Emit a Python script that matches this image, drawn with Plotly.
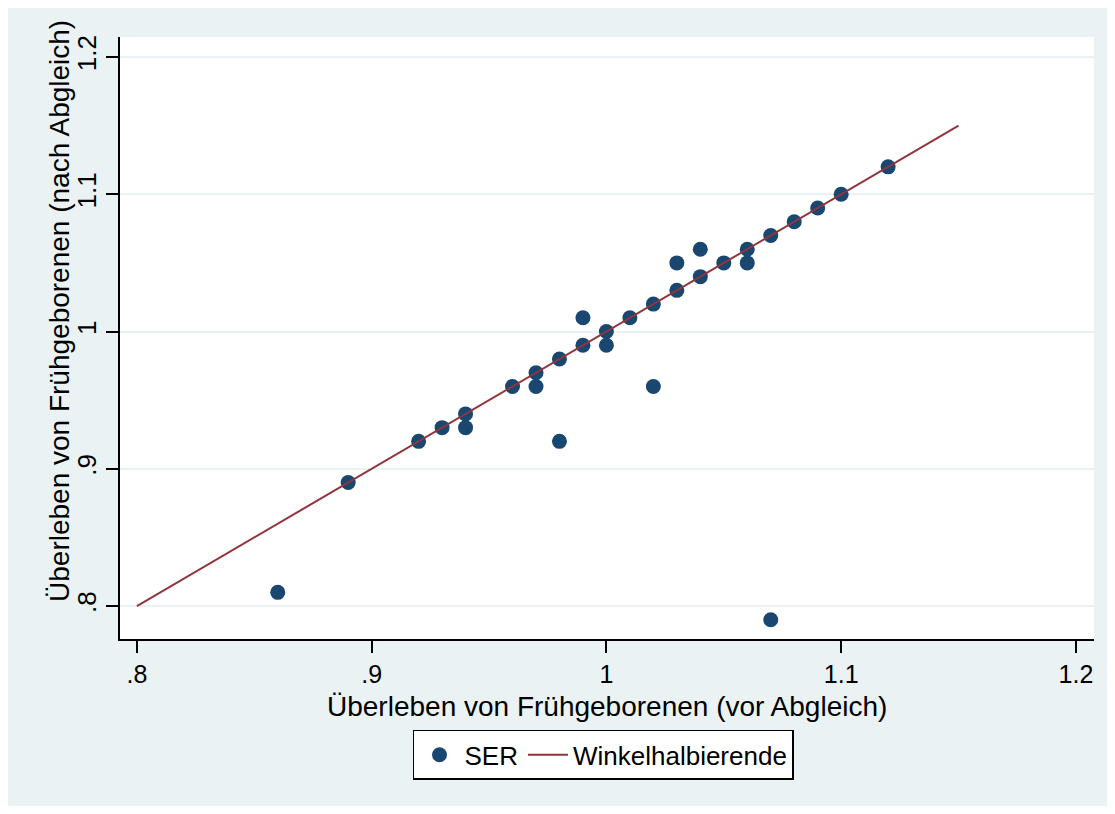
"""
Überleben von Frühgeborenen vor/nach Abgleich - Streudiagramm mit Winkelhalbierende
"""

import plotly.graph_objects as go

# SER-Werte (vor Abgleich / nach Abgleich)
ser_vor = [0.86, 0.89, 0.92, 0.93, 0.94, 0.94, 0.96, 0.97, 0.97, 0.98,
           0.98, 0.99, 0.99, 1.00, 1.00, 1.01, 1.02, 1.02, 1.03, 1.03,
           1.04, 1.04, 1.05, 1.06, 1.06, 1.07, 1.07, 1.08, 1.09, 1.10,
           1.12]
ser_nach = [0.81, 0.89, 0.92, 0.93, 0.94, 0.93, 0.96, 0.97, 0.96, 0.98,
            0.92, 0.99, 1.01, 1.00, 0.99, 1.01, 1.02, 0.96, 1.03, 1.05,
            1.04, 1.06, 1.05, 1.06, 1.05, 1.07, 0.79, 1.08, 1.09, 1.10,
            1.12]

# Winkelhalbierende y = x
diag_x = [0.80, 1.15]
diag_y = [0.80, 1.15]

tick_vals = [0.8, 0.9, 1.0, 1.1, 1.2]
tick_text = [".8", ".9", "1", "1.1", "1.2"]

x_title = "Überleben von Frühgeborenen (vor Abgleich)"
y_title = "Überleben von Frühgeborenen (nach Abgleich)"

FONT = "Liberation Sans, Arial, sans-serif"
NAVY = "#1a476f"
MAROON = "#90353b"
BG = "#eaf2f3"

fig = go.Figure()

fig.add_trace(go.Scatter(
    x=ser_vor,
    y=ser_nach,
    mode="markers",
    name="SER",
    marker=dict(color=NAVY, size=15, line=dict(width=0)),
))

fig.add_trace(go.Scatter(
    x=diag_x,
    y=diag_y,
    mode="lines",
    name="Winkelhalbierende",
    line=dict(color=MAROON, width=2),
))

# Achsentitel als Annotationen (Stata-Platzierung)
fig.add_annotation(
    text=x_title, xref="paper", yref="paper",
    x=0.5005, y=-0.1113, xanchor="center", yanchor="middle",
    showarrow=False, font=dict(size=28),
)
fig.add_annotation(
    text=y_title, xref="paper", yref="paper",
    x=-0.0616, y=0.5449, xanchor="center", yanchor="middle",
    textangle=-90, showarrow=False, font=dict(size=28),
)

fig.update_layout(
    width=1099,
    height=798,
    margin=dict(l=112, r=13, t=29, b=167),
    paper_bgcolor=BG,
    plot_bgcolor="white",
    font=dict(family=FONT, color="black", size=26),
    showlegend=True,
    legend=dict(
        orientation="h",
        x=0.4964,
        xanchor="center",
        y=-0.151,
        yanchor="top",
        bgcolor="white",
        bordercolor="black",
        borderwidth=1.5,
        font=dict(size=26),
        itemwidth=40,
    ),
    xaxis=dict(
        range=[0.7928, 1.2077],
        tickvals=tick_vals,
        ticktext=tick_text,
        tickfont=dict(size=25),
        ticks="outside",
        ticklen=12,
        tickwidth=2,
        tickcolor="black",
        showline=True,
        linecolor="black",
        linewidth=2,
        showgrid=False,
        zeroline=False,
    ),
    yaxis=dict(
        range=[0.776, 1.2146],
        tickvals=tick_vals,
        ticktext=tick_text,
        tickangle=-90,
        ticks="outside",
        ticklen=12,
        tickwidth=2,
        tickcolor="black",
        showline=True,
        linecolor="black",
        linewidth=2,
        showgrid=True,
        gridcolor=BG,
        gridwidth=1.5,
        zeroline=False,
    ),
)

fig.write_html("out.html")
